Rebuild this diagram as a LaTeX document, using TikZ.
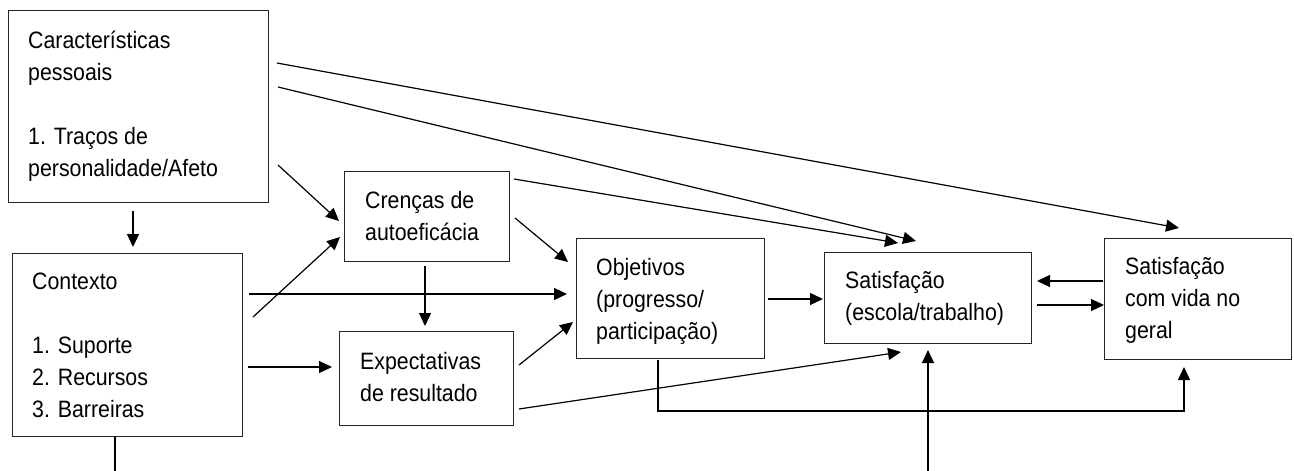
\documentclass[tikz,border=0pt]{standalone}
\usepackage{fontspec}
\setmainfont{Liberation Sans}[FakeStretch=0.9]
\usetikzlibrary{arrows.meta}
\begin{document}
\begin{tikzpicture}[x=1pt,y=-1pt,
  box/.style={draw=black!85, line width=1.3pt, inner sep=0pt, anchor=north west},
  lbl/.style={anchor=north west, inner sep=0pt, align=left,
              font=\fontsize{23.7}{32}\selectfont},
  conn/.style={line width=1.2pt},
  arr/.style={conn, -{Triangle[length=13pt,width=12pt]}}]
\useasboundingbox (0,0) rectangle (1294,471);

% boxes
\node[box, minimum width=260pt, minimum height=192pt] (pers) at (8,10) {};
\node[box, minimum width=230pt, minimum height=183pt] (ctx)  at (12,253) {};
\node[box, minimum width=165pt, minimum height=90pt]  (cren) at (344,171) {};
\node[box, minimum width=174pt, minimum height=94pt]  (expc) at (339,331) {};
\node[box, minimum width=188pt, minimum height=120pt] (obj)  at (576,238) {};
\node[box, minimum width=207pt, minimum height=91pt]  (sat)  at (824,252) {};
\node[box, minimum width=187pt, minimum height=121pt] (vida) at (1104,238) {};

% box texts
\node[lbl] (perst) at (28,25.6) {\strut Características\\pessoais\\[32pt]1. Traços de\\personalidade/Afeto};
\node[lbl] (ctxt)  at (32,266.6) {\strut Contexto\\[32pt]1. Suporte\\2. Recursos\\3. Barreiras};
\node[lbl] (crent) at (365,185.6) {\strut Crenças de\\autoeficácia};
\node[lbl] (expct) at (360,346.6) {\strut Expectativas\\de resultado};
\node[lbl] (objt)  at (596,252.6) {\strut Objetivos\\(progresso/\\participação)};
\node[lbl] (satt)  at (845,265.6) {\strut Satisfação\\(escola/trabalho)};
\node[lbl] (vidat) at (1125,251.6) {\strut Satisfação\\com vida no\\geral};

% connector end points
\coordinate (persS)  at (133,211);  \coordinate (ctxN)   at (133,247);
\coordinate (ctxB)   at (115,436);  \coordinate (ctxOut) at (115,471);
\coordinate (persC)  at (278,165);  \coordinate (crenW1) at (339,221);
\coordinate (ctxC)   at (253,317);  \coordinate (crenW2) at (340,237);
\coordinate (ctxO)   at (249,294);  \coordinate (objW1)  at (567,294);
\coordinate (ctxE)   at (248,367);  \coordinate (expcW)  at (332,367);
\coordinate (crenS)  at (425,266);  \coordinate (expcN)  at (425,326);
\coordinate (crenO)  at (515,218);  \coordinate (objW2)  at (568,262);
\coordinate (expcO)  at (519,365);  \coordinate (objW3)  at (573,322);
\coordinate (expcS)  at (519,409);  \coordinate (satS1)  at (901,352);
\coordinate (objE)   at (768,299);  \coordinate (satW)   at (823,299);
\coordinate (objS)   at (658,360);  \coordinate (vidaS)  at (1184,367);
\coordinate (satIn)  at (928,471);  \coordinate (satS2)  at (928,350);
\coordinate (vidaW1) at (1103,281); \coordinate (satE1)  at (1037,281);
\coordinate (satE2)  at (1037,305); \coordinate (vidaW2) at (1104,305);
\coordinate (persE1) at (278,87);   \coordinate (satN2)  at (916,241);
\coordinate (crenE)  at (514,179);  \coordinate (satN1)  at (898,243);
\coordinate (persE2) at (277,63);   \coordinate (vidaN)  at (1179,228);

% connectors
\draw[arr]  (persS) -- (ctxN);
\draw[conn] (ctxB) -- (ctxOut);
\draw[arr]  (persC) -- (crenW1);
\draw[arr]  (ctxC) -- (crenW2);
\draw[arr]  (ctxO) -- (objW1);
\draw[arr]  (ctxE) -- (expcW);
\draw[arr]  (crenS) -- (expcN);
\draw[arr]  (crenO) -- (objW2);
\draw[arr]  (expcO) -- (objW3);
\draw[arr]  (expcS) -- (satS1);
\draw[arr]  (objE) -- (satW);
\draw[arr]  (objS) |- (vidaS |- 0,411) -- (vidaS);
\draw[arr]  (satIn) -- (satS2);
\draw[arr]  (vidaW1) -- (satE1);
\draw[arr]  (satE2) -- (vidaW2);
\draw[arr]  (persE1) -- (satN2);
\draw[arr]  (crenE) -- (satN1);
\draw[arr]  (persE2) -- (vidaN);
\end{tikzpicture}
\end{document}
